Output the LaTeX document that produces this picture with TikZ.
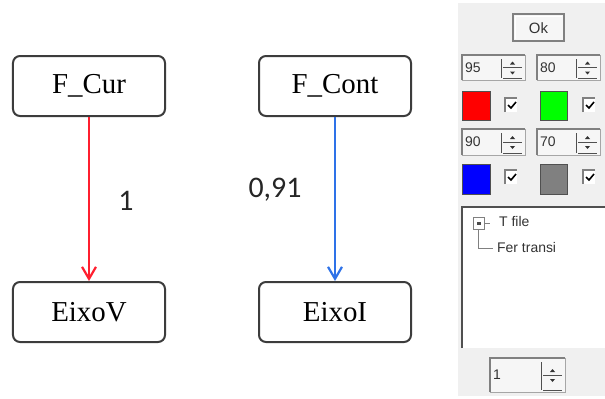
\documentclass[tikz,border=0pt]{standalone}
\usepackage{fontspec}
\setmainfont{Liberation Serif}
\newfontfamily\numfont{Carlito}
\newfontfamily\uifont{Liberation Sans}
\usetikzlibrary{arrows.meta}
\definecolor{edgecol}{HTML}{3C3C3C}
\definecolor{redlink}{HTML}{FF1F2F}
\definecolor{bluelink}{HTML}{2E72E8}
\definecolor{panelbg}{HTML}{F0F0F0}
\definecolor{midgray}{HTML}{808080}
\definecolor{darkgray}{HTML}{505050}
\definecolor{fieldbg}{HTML}{F6F6F6}
\tikzset{
  statebox/.style={draw=edgecol, line width=2bp, rounded corners=7bp, fill=white,
    minimum width=152bp, minimum height=60bp, inner sep=0pt,
    font=\fontsize{29}{34}\selectfont},
  link/.style={line width=2.2bp, -{Straight Barb[length=12bp,width=14bp,line width=2.2bp]}},
  weight/.style={font=\numfont\fontsize{30}{34}\selectfont, text=black!85},
  uitext/.style={font=\uifont\fontsize{14}{16}\selectfont, text=black!80, inner sep=0pt},
  swatch/.style={draw=darkgray, line width=1bp},
}
% sunken spin box: name, x0, y0, x1, y1, value
\newcommand\spinfield[6]{%
  \fill[fieldbg] (#2,#3) rectangle (#4,#5);
  \draw[midgray, line width=1.6bp] (#2,#5) -- (#2,#3) -- (#4,#3);
  \draw[midgray!70, line width=1bp] (#4,#3) -- (#4,#5) -- (#2,#5);
  \node[uitext, anchor=west] (#1) at (#2+3,{(#3+#5)/2}) {#6};
  \draw[darkgray, line width=1bp] (#4-24,#3+4) -- (#4-24,#5-2);
  \draw[darkgray, line width=1bp] (#4-22,{(#3+#5)/2}) -- (#4-3,{(#3+#5)/2});
  \draw[darkgray, line width=1bp] (#4-22,#5-2) -- (#4-3,#5-2);
  \fill[black!80] (#4-15,{(#3+#5)/2-3}) -- (#4-10,{(#3+#5)/2-3}) -- (#4-12.5,{(#3+#5)/2-6}) -- cycle;
  \fill[black!80] (#4-15,{(#3+#5)/2+4}) -- (#4-10,{(#3+#5)/2+4}) -- (#4-12.5,{(#3+#5)/2+7}) -- cycle;
}
% ticked check box at its top left corner
\newcommand\tickbox[2]{%
  \fill[white] (#1,#2) rectangle (#1+12,#2+14);
  \draw[midgray, line width=1.4bp] (#1,#2+14) -- (#1,#2) -- (#1+12,#2);
  \draw[black, line width=1.6bp] (#1+3,#2+7) -- (#1+6,#2+10) -- (#1+11,#2+4);
}
\begin{document}
\begin{tikzpicture}[x=1bp, y=-1bp]
  \useasboundingbox (0,0) rectangle (605,398);
  \fill[white] (0,0) rectangle (605,398);

  % relation graph
  \node[statebox] (fcur)  at (89,86)  {F\_Cur};
  \node[statebox] (fcont) at (335,86) {F\_Cont};
  \node[statebox] (eixov) at (89,312) {EixoV};
  \node[statebox] (eixoi) at (335,312) {EixoI};
  \draw[link, redlink]  (fcur)  -- (eixov);
  \draw[link, bluelink] (fcont) -- (eixoi);
  \node[weight] (w1) at (126,201) {1};
  \node[weight] (w2) at (275,190) {0,91};

  % settings panel
  \fill[panelbg] (458,3) rectangle (605,396);
  \fill[fieldbg] (513,14) rectangle (564,41);
  \draw[midgray, line width=2bp] (513,14) rectangle (564,41);
  \draw[white, line width=1bp] (515.5,39) -- (515.5,16.5) -- (562,16.5);
  \node[uitext, font=\uifont\fontsize{15}{17}\selectfont] (ok) at (538.5,28) {Ok};

  \spinfield{sa}{462}{55}{525}{80}{95}
  \spinfield{sb}{537}{55}{600}{80}{80}
  \fill[red] (462,91) rectangle (490,120);
  \draw[swatch] (462,91) rectangle (490,120);
  \tickbox{505}{98}
  \fill[green] (540,91) rectangle (567,120);
  \draw[swatch] (540,91) rectangle (567,120);
  \tickbox{583}{98}

  \spinfield{sc}{462}{129}{525}{155}{90}
  \spinfield{sd}{537}{129}{600}{155}{70}
  \fill[blue] (462,164) rectangle (490,194);
  \draw[swatch] (462,164) rectangle (490,194);
  \tickbox{505}{170}
  \fill[midgray] (540,164) rectangle (567,194);
  \draw[swatch] (540,164) rectangle (567,194);
  \tickbox{583}{170}

  % tree list
  \fill[white] (462,207) rectangle (605,348);
  \draw[darkgray, line width=2bp] (462,348) -- (462,207) -- (605,207);
  \draw[midgray, line width=1bp] (473,217) rectangle (484,229);
  \fill[black!70] (476.5,221.5) rectangle (480.5,225);
  \draw[midgray, line width=0.8bp] (478.5,229) -- (478.5,248) -- (493,248);
  \draw[midgray, line width=0.8bp] (484,223) -- (490,223);
  \node[uitext, anchor=west] (tfile) at (499,222) {T file};
  \node[uitext, anchor=west] (fer) at (497,248) {Fer transi};

  \spinfield{se}{490}{358}{565}{392}{1}
\end{tikzpicture}
\end{document}
